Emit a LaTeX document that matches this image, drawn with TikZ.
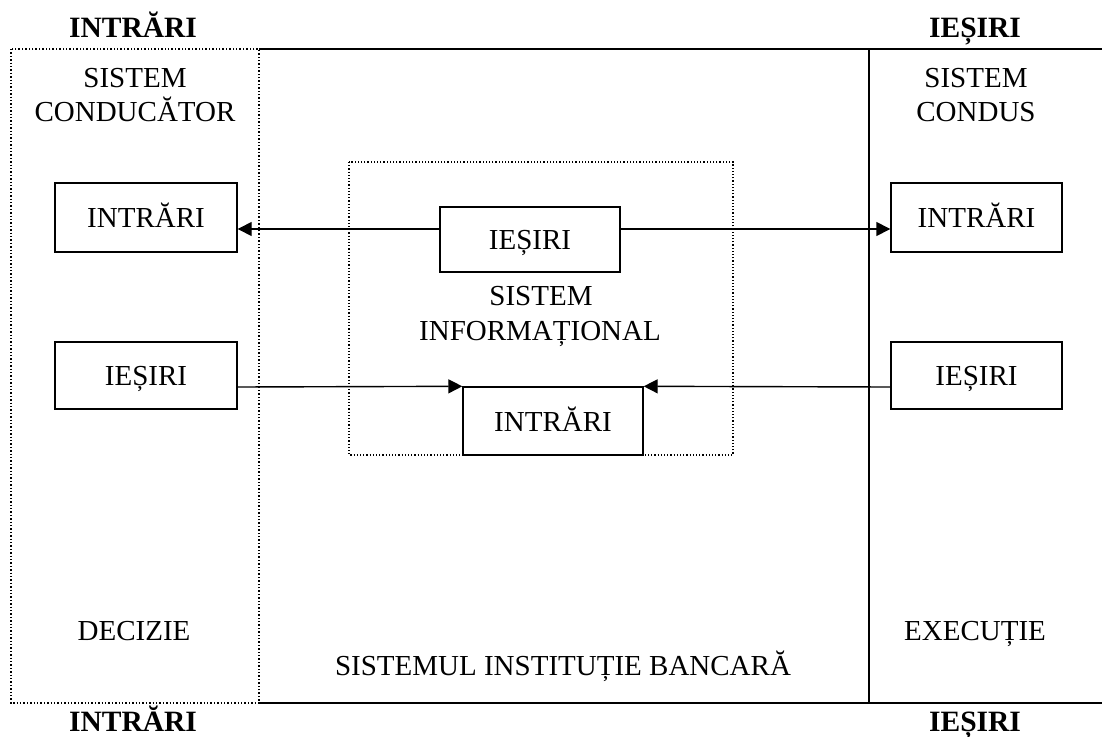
\documentclass[tikz,border=0pt]{standalone}
\usepackage{fontspec}
\setmainfont{Liberation Serif}
\usetikzlibrary{arrows.meta}
\begin{document}
\begin{tikzpicture}[x=1pt,y=-1pt,
  every node/.style={font=\fontsize{29}{34}\selectfont, inner sep=0pt},
  lbl/.style={anchor=base},
  heading/.style={anchor=base, font=\fontsize{29.5}{34}\selectfont\bfseries},
  frame/.style={line width=1.4pt},
  dotframe/.style={line width=1.4pt, dotted},
  fine/.style={line width=1.1pt, dash pattern=on 1.2pt off 2pt},
  box/.style={draw, line width=1.4pt, minimum width=#1, text height=20pt, text depth=0pt},
  arr/.style={line width=1.4pt, -{Triangle[length=14pt,width=14pt]}}]
\useasboundingbox (0,0) rectangle (1102,736);

% outer frames
\draw[dotframe] (11,49) rectangle (259,703);
\draw[frame] (259,49) -- (1102,49);
\draw[frame] (259,703) -- (1102,703);
\draw[frame] (869,49) -- (869,703);
% information system frame
\draw[fine] (349,162) rectangle (733,455);

% headings
\node[heading] (tl) at (133,37) {INTRĂRI};
\node[heading] (tr) at (975,37) {IEȘIRI};
\node[heading] (bl) at (133,731) {INTRĂRI};
\node[heading] (br) at (975,731) {IEȘIRI};

% region labels
\node[lbl] (cond1) at (135,87) {SISTEM};
\node[lbl] (cond2) at (135,121) {CONDUCĂTOR};
\node[lbl] (condus1) at (976,87) {SISTEM};
\node[lbl] (condus2) at (976,121) {CONDUS};
\node[lbl] (info1) at (541,305) {SISTEM};
\node[lbl] (info2) at (540,340) {INFORMAȚIONAL};
\node[lbl] (dec) at (134,640) {DECIZIE};
\node[lbl] (exe) at (975,640) {EXECUȚIE};
\node[lbl] (banca) at (563,675) {SISTEMUL INSTITUȚIE BANCARĂ};

% boxes
\node[box=182pt, minimum height=69pt] (inL) at (146,217.5) {INTRĂRI};
\node[box=182pt, minimum height=67pt] (iesL) at (146,375.5) {IEȘIRI};
\node[box=180pt, minimum height=65pt] (iesC) at (530,239.5) {IEȘIRI};
\node[box=180pt, minimum height=68pt] (inC) at (553,421) {INTRĂRI};
\node[box=171pt, minimum height=69pt] (inR) at (976.5,217.5) {INTRĂRI};
\node[box=171pt, minimum height=67pt] (iesR) at (976.5,375.5) {IEȘIRI};

% connectors
\coordinate (r1) at (0,229);
\coordinate (r2) at (0,387);
\draw[arr] (iesC.west |- r1) -- (inL.east |- r1);
\draw[arr] (iesC.east |- r1) -- (inR.west |- r1);
\draw[arr] (iesL.east |- r2) -- (inC.north west);
\draw[arr] (iesR.west |- r2) -- (inC.north east);
\end{tikzpicture}
\end{document}
